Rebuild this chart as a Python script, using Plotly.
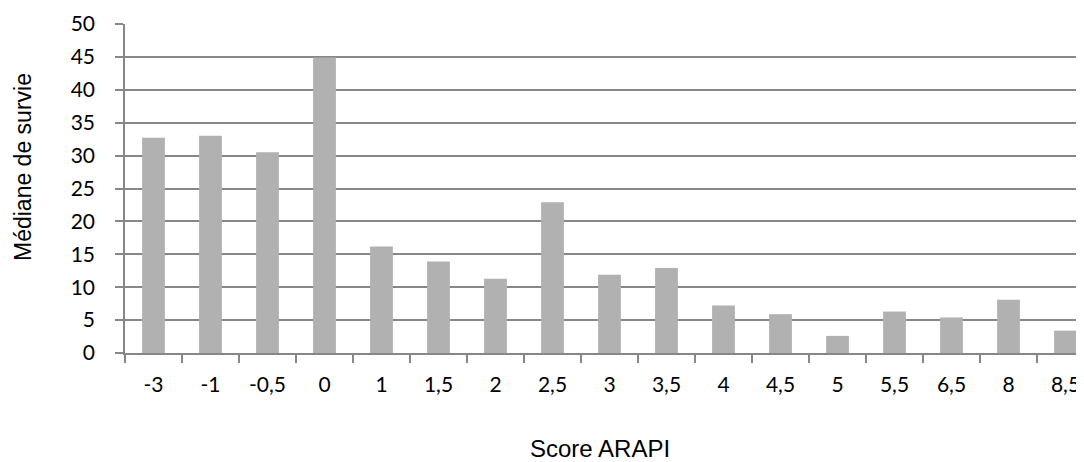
import plotly.graph_objects as go

categories = ["-3", "-1", "-0,5", "0", "1", "1,5", "2", "2,5", "3", "3,5",
              "4", "4,5", "5", "5,5", "6,5", "8", "8,5"]
mediane = [32.7, 33.0, 30.5, 44.9, 16.2, 13.9, 11.3, 22.9, 11.9, 12.9,
           7.2, 5.9, 2.6, 6.3, 5.4, 8.1, 3.4]
y_ticks = [0, 5, 10, 15, 20, 25, 30, 35, 40, 45, 50]

# the page puts the figure 8px in from the top-left corner
W, H = 1076, 454
ML, MR, MT, MB = 117, 0, 16, 109
plot_w = W - ML - MR
slot = 57.0
x_hi = -0.5 + plot_w / slot

fig = go.Figure()
fig.add_trace(go.Bar(
    x=categories, y=mediane, width=0.4,
    marker=dict(color="#b1b1b1", line=dict(width=0)),
    showlegend=False,
))

tick_font = dict(family="Lato", size=21, color="#000000")
y_title_font = dict(family="Liberation Sans", size=23, color="#000000")
x_title_font = dict(family="Liberation Sans", size=24, color="#000000")
axis_grey = "#878787"

fig.update_layout(
    width=W, height=H,
    margin=dict(l=ML, r=MR, t=MT, b=MB, pad=0),
    paper_bgcolor="white", plot_bgcolor="white",
    xaxis=dict(
        type="category", range=[-0.5, x_hi],
        tickson="boundaries", ticks="outside", ticklen=8, tickwidth=1.5,
        tickcolor=axis_grey, showline=True, linecolor=axis_grey, linewidth=1.5,
        showgrid=False, tickfont=tick_font, ticklabelstandoff=12,
    ),
    yaxis=dict(
        range=[0, 50], tickvals=y_ticks, ticks="outside", ticklen=8,
        tickwidth=1.5, tickcolor=axis_grey, showline=True, linecolor=axis_grey,
        linewidth=1.5, showgrid=True, gridcolor=axis_grey, gridwidth=1.5,
        zeroline=False, tickfont=tick_font, ticklabelstandoff=16,
    ),
    annotations=[
        dict(text="Médiane de survie", xref="paper", yref="paper", x=0, y=0.5,
             xshift=-102.5, yshift=21, textangle=-90, showarrow=False,
             xanchor="center", yanchor="middle", font=y_title_font),
        dict(text="Score ARAPI", xref="paper", yref="paper",
             x=(592 - ML) / plot_w, y=0, yshift=-95, showarrow=False,
             xanchor="center", yanchor="middle", font=x_title_font),
    ],
)

fig.write_html("out.html")
